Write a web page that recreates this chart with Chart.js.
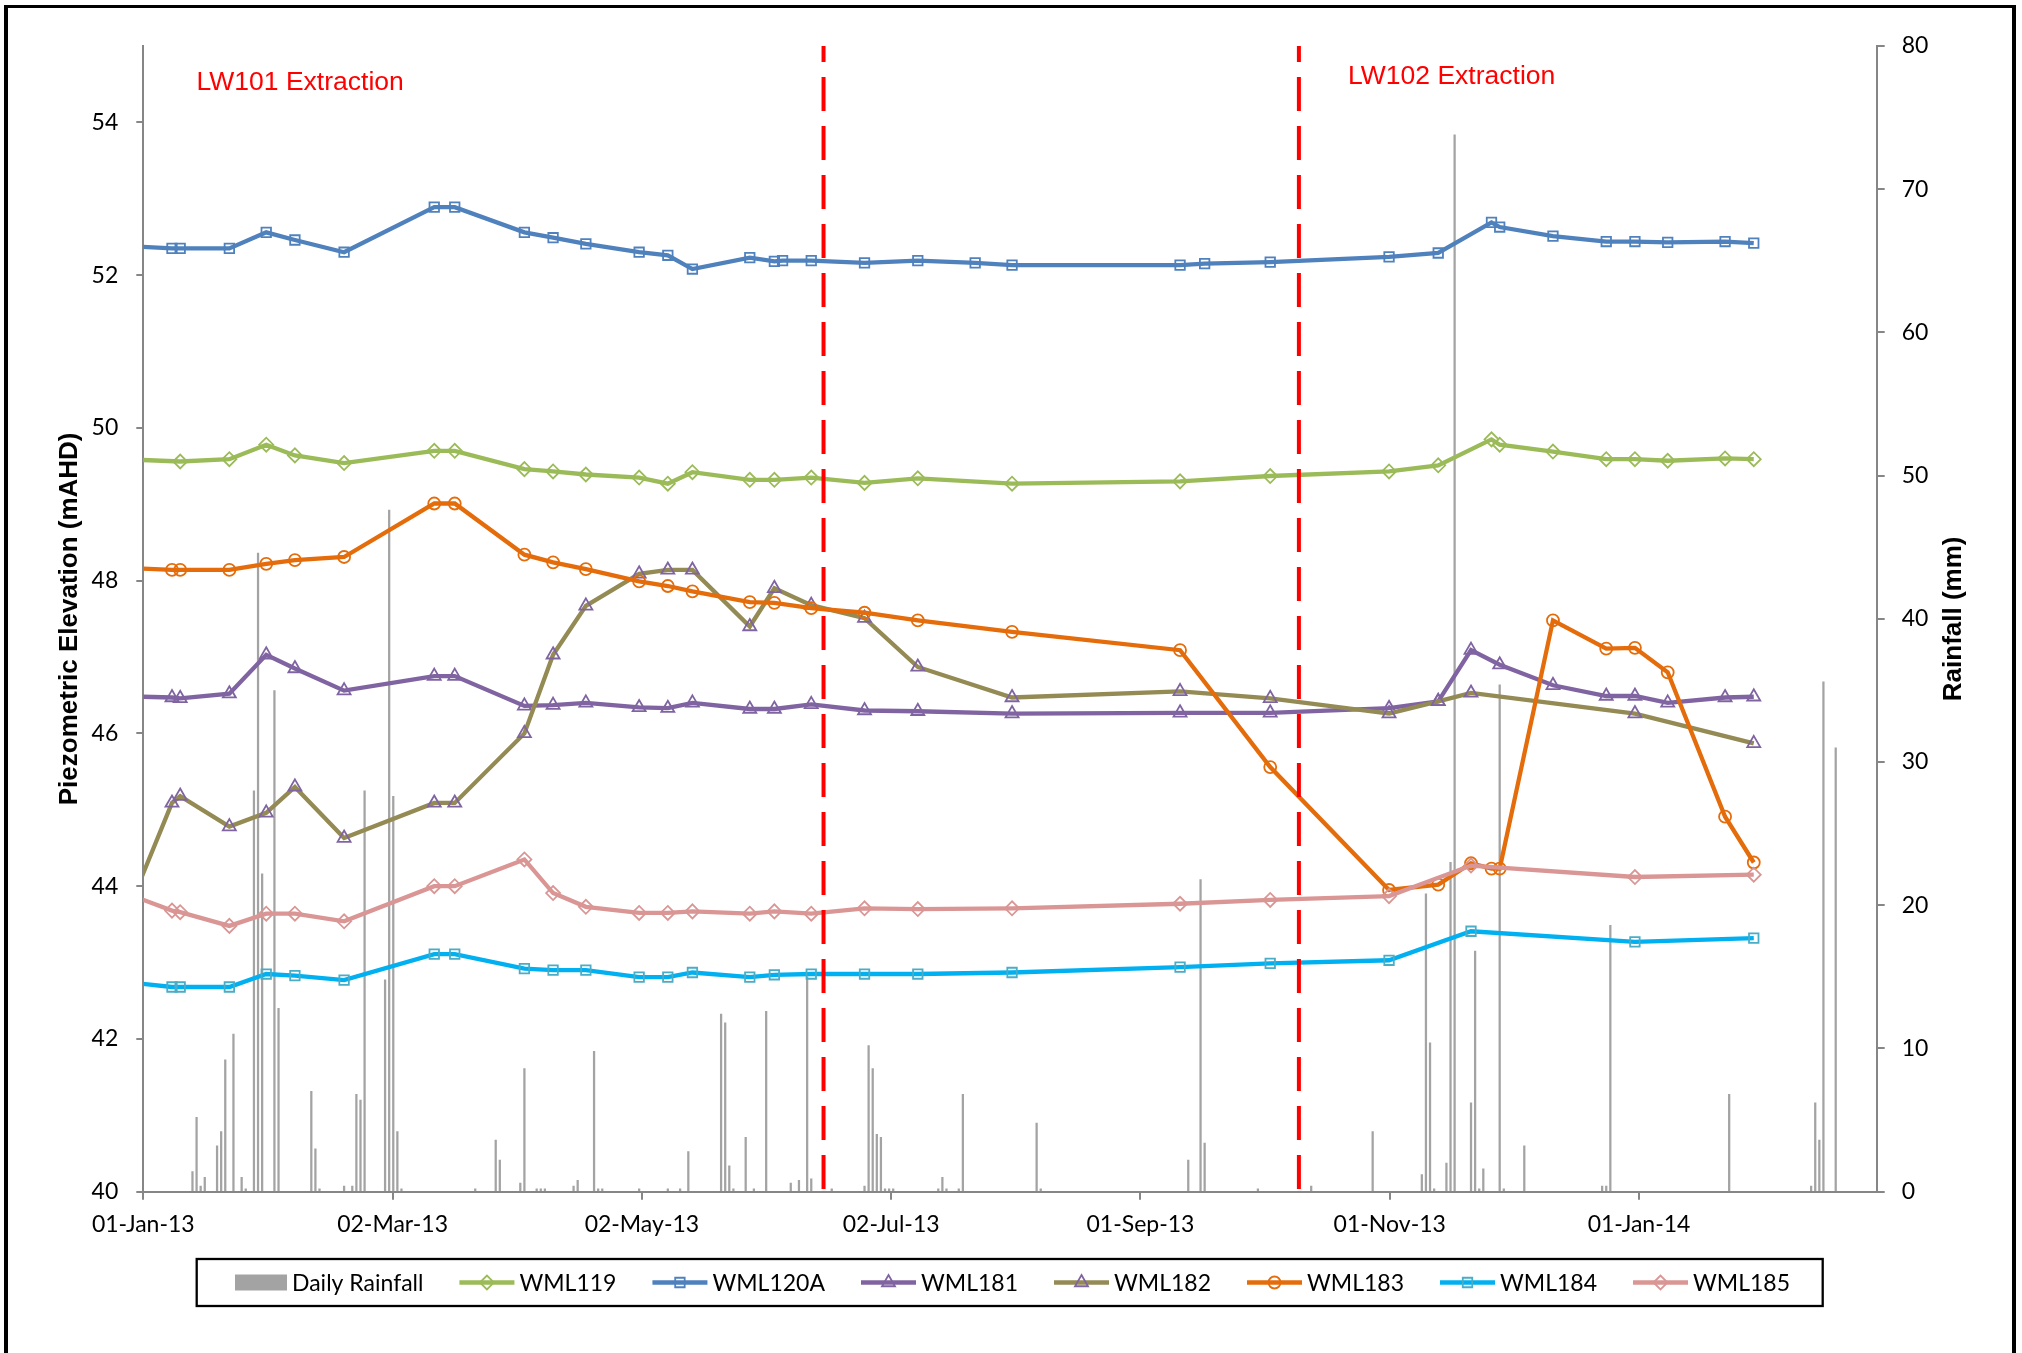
<!DOCTYPE html>
<html>
<head>
<meta charset="utf-8">
<title>Piezometric elevation and daily rainfall</title>
<script src="https://cdn.jsdelivr.net/npm/chart.js@4.4.1/dist/chart.umd.min.js"></script>
<style>
  html, body { margin: 0; padding: 0; background: #fff; }
  #wrap { position: relative; width: 2022px; height: 1353px; overflow: hidden; background: #fff; }
  #chart { position: absolute; left: 0; top: 0; }
  #frame { position: absolute; left: 4px; top: 5px; width: 2004px; height: 1400px;
           border-style: solid; border-color: #000; border-width: 3px 4px 0 4px; pointer-events: none; }
</style>
</head>
<body>
<div id="wrap">
  <canvas id="chart" width="2022" height="1353"></canvas>
  <div id="frame"></div>
</div>
<script>
// ---- Piezometer readings (mAHD); one shared list of survey dates, null = not read that day ----
const surveyDates = [
  '2012-12-18', '2013-01-08', '2013-01-10', '2013-01-22', '2013-01-31', '2013-02-07', '2013-02-19',
  '2013-03-13', '2013-03-18', '2013-04-04', '2013-04-11', '2013-04-19', '2013-05-02', '2013-05-09',
  '2013-05-15', '2013-05-29', '2013-06-04', '2013-06-06', '2013-06-13', '2013-06-26', '2013-07-09',
  '2013-07-23', '2013-08-01', '2013-09-11', '2013-09-17', '2013-10-03', '2013-11-01', '2013-11-13',
  '2013-11-21', '2013-11-26', '2013-11-28', '2013-12-11', '2013-12-24', '2013-12-31', '2014-01-08',
  '2014-01-22', '2014-01-29'
];
const wml119 = [49.61, null, 49.56, 49.59, 49.78, 49.64, 49.54, 49.70, 49.70, 49.46, 49.43, 49.39, 49.35,
  49.27, 49.42, 49.32, 49.32, null, 49.35, 49.28, 49.34, null, 49.27, 49.30, null, 49.37, 49.43, 49.51,
  null, 49.85, 49.78, 49.69, 49.59, 49.59, 49.57, 49.60, 49.59];
const wml120a = [52.41, 52.35, 52.35, 52.35, 52.56, 52.46, 52.30, 52.89, 52.89, 52.56, 52.49, 52.41, 52.30,
  52.26, 52.08, 52.23, 52.18, 52.19, 52.19, 52.16, 52.19, 52.16, 52.13, 52.13, 52.15, 52.17, 52.24, 52.29,
  null, 52.69, 52.63, 52.51, 52.44, 52.44, 52.43, 52.44, 52.42];
const wml181 = [46.50, 46.47, 46.46, 46.52, 47.03, 46.85, 46.56, 46.75, 46.75, 46.36, 46.37, 46.40, 46.34,
  46.33, 46.40, 46.32, 46.32, null, 46.38, 46.30, 46.29, null, 46.26, 46.27, null, 46.27, 46.33, 46.42,
  47.09, null, 46.90, 46.63, 46.49, 46.49, 46.40, 46.47, 46.48];
const wml182 = [42.33, 45.09, 45.18, 44.78, 44.96, 45.30, 44.63, 45.09, 45.09, 46.00, 47.03, 47.67, 48.09,
  48.14, 48.14, 47.40, 47.90, null, 47.68, 47.51, 46.87, null, 46.47, 46.55, null, 46.46, 46.26, 46.42,
  46.53, null, null, null, null, 46.26, null, null, 45.87];
const wml183 = [48.19, 48.14, 48.14, 48.14, 48.22, 48.27, 48.31, 49.01, 49.01, 48.34, 48.24, 48.15, 47.99,
  47.93, 47.86, 47.72, 47.71, null, 47.64, 47.58, 47.48, null, 47.33, 47.09, null, 45.56, 43.95, 44.02,
  44.30, 44.23, 44.23, 47.48, 47.11, 47.12, 46.80, 44.91, 44.31];
const wml184 = [42.80, 42.68, 42.68, 42.68, 42.85, 42.83, 42.77, 43.11, 43.11, 42.92, 42.90, 42.90, 42.81,
  42.81, 42.87, 42.81, 42.84, null, 42.85, 42.85, 42.85, null, 42.87, 42.94, null, 42.99, 43.03, null,
  43.41, null, null, null, null, 43.27, null, null, 43.32];
const wml185 = [44.10, 43.68, 43.66, 43.48, 43.64, 43.64, 43.54, 44.00, 44.00, 44.35, 43.91, 43.73, 43.65,
  43.65, 43.67, 43.64, 43.67, null, 43.64, 43.71, 43.70, null, 43.71, 43.77, null, 43.82, 43.87, null,
  44.27, null, null, null, null, 44.12, null, null, 44.15];

// ---- Daily rainfall (mm), wet days only ----
const rainDates = [
  '2013-01-13', '2013-01-14', '2013-01-15', '2013-01-16', '2013-01-19', '2013-01-20', '2013-01-21',
  '2013-01-23', '2013-01-25', '2013-01-26', '2013-01-28', '2013-01-29', '2013-01-30', '2013-02-02',
  '2013-02-03', '2013-02-11', '2013-02-12', '2013-02-13', '2013-02-19', '2013-02-21', '2013-02-22',
  '2013-02-23', '2013-02-24', '2013-03-01', '2013-03-02', '2013-03-03', '2013-03-04', '2013-03-05',
  '2013-03-23', '2013-03-28', '2013-03-29', '2013-04-03', '2013-04-04', '2013-04-07', '2013-04-08',
  '2013-04-09', '2013-04-16', '2013-04-17', '2013-04-21', '2013-04-22', '2013-04-23', '2013-05-02',
  '2013-05-09', '2013-05-12', '2013-05-14', '2013-05-22', '2013-05-23', '2013-05-24', '2013-05-25',
  '2013-05-28', '2013-05-30', '2013-06-02', '2013-06-08', '2013-06-10', '2013-06-12', '2013-06-13',
  '2013-06-18', '2013-06-26', '2013-06-27', '2013-06-28', '2013-06-29', '2013-06-30', '2013-07-01',
  '2013-07-02', '2013-07-03', '2013-07-14', '2013-07-15', '2013-07-16', '2013-07-19', '2013-07-20',
  '2013-08-07', '2013-08-08', '2013-09-13', '2013-09-16', '2013-09-17', '2013-09-30', '2013-10-13',
  '2013-10-28', '2013-11-09', '2013-11-10', '2013-11-11', '2013-11-12', '2013-11-15', '2013-11-16',
  '2013-11-17', '2013-11-21', '2013-11-22', '2013-11-23', '2013-11-24', '2013-11-28', '2013-11-29',
  '2013-12-04', '2013-12-23', '2013-12-24', '2013-12-25', '2014-01-23', '2014-02-12', '2014-02-13',
  '2014-02-14', '2014-02-15', '2014-02-18'
];
const rainMm = [
  1.4, 5.2, 0.4, 1.0, 3.2, 4.2, 9.2,
  11.0, 1.0, 0.2, 28.0, 44.6, 22.2, 35.0,
  12.8, 7.0, 3.0, 0.2, 0.4, 0.4, 6.8,
  6.4, 28.0, 14.8, 47.6, 27.6, 4.2, 0.2,
  0.2, 3.6, 2.2, 0.6, 8.6, 0.2, 0.2,
  0.2, 0.4, 0.8, 9.8, 0.2, 0.2, 0.2,
  0.2, 0.2, 2.8, 12.4, 11.8, 1.8, 0.2,
  3.8, 0.2, 12.6, 0.6, 0.8, 15.0, 0.9,
  0.2, 0.4, 10.2, 8.6, 4.0, 3.8, 0.2,
  0.2, 0.2, 0.2, 1.0, 0.2, 0.2, 6.8,
  4.8, 0.2, 2.2, 21.8, 3.4, 0.2, 0.4,
  4.2, 1.2, 20.8, 10.4, 0.2, 2.0, 23.0,
  73.8, 6.2, 16.8, 0.2, 1.6, 35.4, 0.2,
  3.2, 0.4, 0.4, 18.6, 6.8, 0.4, 6.2,
  3.6, 35.6, 31.0
];

// ---- Axis labels and longwall extraction milestones ----
const xTickLabels = ['01-Jan-13', '02-Mar-13', '02-May-13', '02-Jul-13', '01-Sep-13', '01-Nov-13', '01-Jan-14'];
const extractionDates = ['2013-06-16', '2013-10-10'];
const extractionLabels = ['LW101 Extraction', 'LW102 Extraction'];

// x axis runs in days from 1 Jan 2013; major unit is a sixth of a year
const ORIGIN = Date.UTC(2013, 0, 1);
const DAY = 86400000;
function dayOf(iso) {
  const [y, m, d] = iso.split('-').map(Number);
  return (Date.UTC(y, m - 1, d) - ORIGIN) / DAY;
}
const X_STEP = 365 / 6;

const AXIS = '#868686';
const TICK_FONT = 'Lato, "Open Sans", sans-serif';
const TITLE_FONT = '"Liberation Sans", Arial, sans-serif';

const series = [
  { label: 'WML119',  values: wml119,  line: '#9BBB59', marker: '#9BBB59', style: 'rectRot',  radius: 7 },
  { label: 'WML120A', values: wml120a, line: '#4F81BD', marker: '#4F81BD', style: 'rect',     radius: 6.7 },
  { label: 'WML181',  values: wml181,  line: '#8064A2', marker: '#8064A2', style: 'triangle', radius: 7.5 },
  { label: 'WML182',  values: wml182,  line: '#948A54', marker: '#8064A2', style: 'triangle', radius: 7.5 },
  { label: 'WML183',  values: wml183,  line: '#E46C0A', marker: '#E46C0A', style: 'circle',   radius: 6 },
  { label: 'WML184',  values: wml184,  line: '#00B0F0', marker: '#4BACC6', style: 'rect',     radius: 6.7 },
  { label: 'WML185',  values: wml185,  line: '#D99694', marker: '#D99694', style: 'rectRot',  radius: 7 }
];

const rainSet = {
  type: 'bar',
  label: 'Daily Rainfall',
  data: rainDates.map((d, i) => ({ x: dayOf(d), y: rainMm[i] })),
  backgroundColor: '#a3a3a3',
  borderWidth: 0,
  barThickness: 1.6,
  xAxisID: 'x',
  yAxisID: 'yRain',
  order: 100
};

const lineSets = series.map((s, i) => ({
  type: 'line',
  label: s.label,
  data: surveyDates.map((d, j) => ({ x: dayOf(d), y: s.values[j] })),
  borderColor: s.line,
  backgroundColor: s.line,
  borderWidth: 4.3,
  pointStyle: s.style,
  pointRadius: s.radius,
  pointBorderColor: s.marker,
  pointBackgroundColor: 'rgba(0,0,0,0)',
  pointBorderWidth: 1.8,
  spanGaps: true,
  tension: 0,
  xAxisID: 'x',
  yAxisID: 'y',
  order: series.length - i
}));

// Vertical dashed milestone lines with their captions
const extractionMarkers = {
  id: 'extractionMarkers',
  afterDatasetsDraw(chart, args, opts) {
    const { ctx, chartArea, scales } = chart;
    ctx.save();
    ctx.strokeStyle = opts.color;
    ctx.lineWidth = opts.lineWidth;
    ctx.setLineDash(opts.dash);
    ctx.lineDashOffset = opts.dashOffset;
    extractionDates.forEach((d) => {
      const x = scales.x.getPixelForValue(dayOf(d));
      ctx.beginPath();
      ctx.moveTo(x, chartArea.top);
      ctx.lineTo(x, chartArea.bottom);
      ctx.stroke();
    });
    ctx.setLineDash([]);
    ctx.fillStyle = opts.color;
    ctx.font = opts.font;
    ctx.textAlign = 'left';
    ctx.textBaseline = 'alphabetic';
    extractionLabels.forEach((text, i) => {
      const a = opts.anchors[i];
      ctx.fillText(text, scales.x.getPixelForValue(dayOf(a.date)), scales.y.getPixelForValue(a.level));
    });
    ctx.restore();
  }
};

// Secondary axis title, reading bottom-to-top like the primary one
const rainTitle = {
  id: 'rainTitle',
  afterDraw(chart, args, opts) {
    const { ctx, chartArea } = chart;
    const s = chart.scales.yRain;
    ctx.save();
    ctx.translate(s.right - opts.offset, (chartArea.top + chartArea.bottom) / 2);
    ctx.rotate(-Math.PI / 2);
    ctx.font = opts.font;
    ctx.fillStyle = '#000';
    ctx.textAlign = 'center';
    ctx.textBaseline = 'middle';
    ctx.fillText(opts.text, 0, 0);
    ctx.restore();
  }
};

// Boxed legend below the axis: line + marker samples for wells, swatch for rainfall
const boxLegend = {
  id: 'boxLegend',
  afterDraw(chart, args, opts) {
    const ctx = chart.ctx;
    ctx.save();
    ctx.lineWidth = opts.frameWidth;
    ctx.strokeStyle = '#000';
    ctx.strokeRect(opts.left, opts.top, opts.width, opts.height);
    const midY = opts.top + opts.height / 2;
    ctx.font = opts.font;
    ctx.textAlign = 'left';
    ctx.textBaseline = 'alphabetic';
    let x = opts.startX;
    chart.data.datasets.forEach((ds) => {
      if (ds.type === 'bar') {
        ctx.fillStyle = ds.backgroundColor;
        ctx.fillRect(x, midY - opts.swatchH / 2, opts.swatchW, opts.swatchH);
        x += opts.swatchW + opts.textGap;
      } else {
        ctx.strokeStyle = ds.borderColor;
        ctx.lineWidth = ds.borderWidth;
        ctx.beginPath();
        ctx.moveTo(x, midY);
        ctx.lineTo(x + opts.sampleW, midY);
        ctx.stroke();
        ctx.strokeStyle = ds.pointBorderColor;
        ctx.fillStyle = 'rgba(0,0,0,0)';
        ctx.lineWidth = ds.pointBorderWidth;
        Chart.helpers.drawPoint(ctx, {
          pointStyle: ds.pointStyle, radius: ds.pointRadius, rotation: 0, borderWidth: ds.pointBorderWidth
        }, x + opts.sampleW / 2, midY);
        x += opts.sampleW + opts.textGap;
      }
      ctx.fillStyle = '#000';
      ctx.fillText(ds.label, x, midY + opts.baselineShift);
      x += ctx.measureText(ds.label).width + opts.itemGap;
    });
    ctx.restore();
  }
};

const gridOpts = (len) => ({
  display: true, offset: false, drawOnChartArea: false, drawTicks: true, tickLength: len, color: AXIS, lineWidth: 2
});

new Chart(document.getElementById('chart'), {
  type: 'line',
  data: { datasets: [rainSet, ...lineSets] },
  plugins: [extractionMarkers, rainTitle, boxLegend],
  options: {
    responsive: false,
    animation: false,
    devicePixelRatio: 1,
    events: [],
    layout: { padding: { top: 46, left: 0, right: 0, bottom: 0 } },
    scales: {
      x: {
        type: 'linear', position: 'bottom', min: 0, max: 423, offset: false,
        afterBuildTicks: (s) => { s.ticks = xTickLabels.map((_, i) => ({ value: i * X_STEP })); },
        afterFit: (s) => { s.height = 161.3; },
        grid: gridOpts(8),
        border: { display: true, color: AXIS, width: 2 },
        ticks: {
          autoSkip: false, maxRotation: 0, minRotation: 0, padding: 11, color: '#000',
          font: { family: TICK_FONT, size: 23 },
          callback: (v, i) => xTickLabels[i]
        }
      },
      y: {
        type: 'linear', position: 'left', min: 40, max: 55,
        afterFit: (s) => { s.width = 143.3; },
        grid: gridOpts(7),
        border: { display: true, color: AXIS, width: 2 },
        ticks: { stepSize: 2, includeBounds: false, padding: 18, color: '#000', font: { family: TICK_FONT, size: 23 } },
        title: {
          display: true, text: 'Piezometric Elevation (mAHD)', color: '#000',
          font: { family: TITLE_FONT, size: 26, weight: 'bold' }, padding: { top: 54.4, bottom: 0 }
        }
      },
      yRain: {
        type: 'linear', position: 'right', min: 0, max: 80,
        afterFit: (s) => { s.width = 145.3; },
        grid: gridOpts(8),
        border: { display: true, color: AXIS, width: 2 },
        ticks: { stepSize: 10, padding: 17, color: '#000', font: { family: TICK_FONT, size: 23 } }
      }
    },
    plugins: {
      legend: { display: false },
      tooltip: { enabled: false },
      extractionMarkers: {
        color: '#FF0000', lineWidth: 4, dash: [34, 15], dashOffset: 18,
        font: '26.5px "Liberation Sans", Arial, sans-serif',
        anchors: [{ date: '2013-01-14', level: 54.43 }, { date: '2013-10-22', level: 54.50 }]
      },
      rainTitle: { text: 'Rainfall (mm)', offset: 68, font: 'bold 26px "Liberation Sans", Arial, sans-serif' },
      boxLegend: {
        left: 196.7, top: 1259, width: 1626, height: 47, frameWidth: 2.3,
        startX: 235, swatchW: 52, swatchH: 16, sampleW: 55, textGap: 5, itemGap: 36,
        baselineShift: 8.3, font: '23px Lato, "Open Sans", sans-serif'
      }
    }
  }
});
</script>
</body>
</html>
